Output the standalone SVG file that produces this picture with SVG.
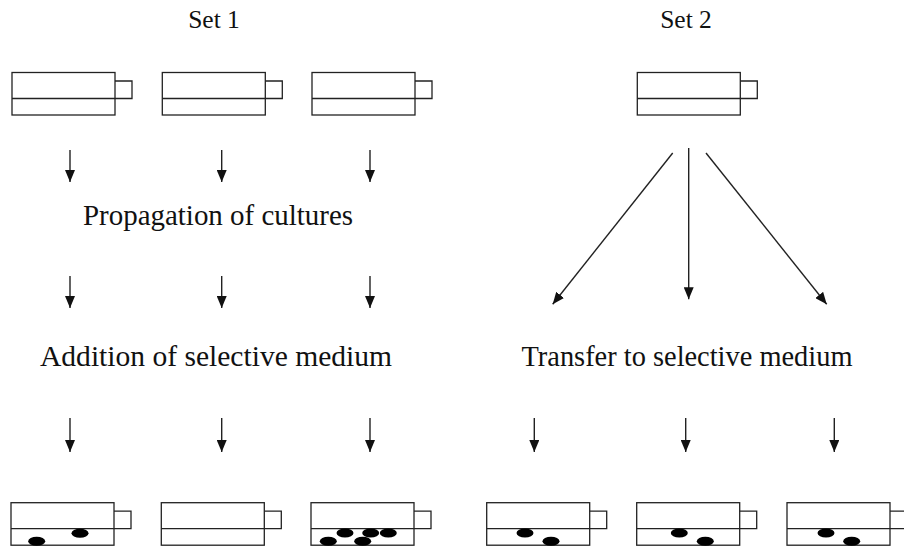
<svg xmlns="http://www.w3.org/2000/svg" xmlns:xlink="http://www.w3.org/1999/xlink" width="904" height="550" viewBox="0 0 904 550">
  <style>
    .t { fill: none; stroke: #222; stroke-width: 1.3; }
    .lbl { font-family: "Liberation Serif", "Times New Roman", serif; fill: #111; text-anchor: middle; }
    .set { font-size: 25.5px; }
    .mid { font-size: 28.5px; }
    .arr { stroke: #222; stroke-width: 1.4; fill: none; marker-end: url(#ah); }
    .blob { fill: #000; }
  </style>
  <defs>
    <marker id="ah" viewBox="0 0 12 10" refX="12" refY="5" markerWidth="12" markerHeight="10" markerUnits="userSpaceOnUse" orient="auto">
      <path d="M0,0 L12,5 L0,10 z" fill="#111"/>
    </marker>
    <g id="tube">
      <rect class="t" x="0" y="0" width="103" height="42.5"/>
      <line class="t" x1="0" y1="26" x2="103" y2="26"/>
      <polyline class="t" points="103,8.5 120,8.5 120,26 103,26"/>
    </g>
  </defs>
  <rect width="904" height="550" fill="#fff"/>

  <g id="labels">
    <text class="lbl set" x="214" y="28">Set 1</text>
    <text class="lbl set" x="686" y="28">Set 2</text>
    <text class="lbl mid" x="218" y="225" textLength="270" lengthAdjust="spacingAndGlyphs">Propagation of cultures</text>
    <text class="lbl mid" x="216" y="366" textLength="352" lengthAdjust="spacingAndGlyphs">Addition of selective medium</text>
    <text class="lbl mid" x="687" y="366" textLength="331" lengthAdjust="spacingAndGlyphs">Transfer to selective medium</text>
  </g>

  <g id="set1-top-1"><use xlink:href="#tube" x="12" y="72.5"/></g>
  <g id="set1-top-2"><use xlink:href="#tube" x="162.3" y="72.5"/></g>
  <g id="set1-top-3"><use xlink:href="#tube" x="312" y="72.5"/></g>
  <g id="set2-top"><use xlink:href="#tube" x="637.3" y="72.5"/></g>

  <g id="set1-bottom-1">
    <use xlink:href="#tube" x="11" y="502.7"/>
    <ellipse class="blob" cx="36.7" cy="541.3" rx="8.5" ry="4.5"/>
    <ellipse class="blob" cx="80" cy="533.3" rx="8.5" ry="4.5"/>
  </g>
  <g id="set1-bottom-2">
    <use xlink:href="#tube" x="161.3" y="502.7"/>
  </g>
  <g id="set1-bottom-3">
    <use xlink:href="#tube" x="311" y="502.7"/>
    <ellipse class="blob" cx="328.3" cy="541.3" rx="8.5" ry="4.5"/>
    <ellipse class="blob" cx="345" cy="533" rx="8.5" ry="4.5"/>
    <ellipse class="blob" cx="370.7" cy="533" rx="8.5" ry="4.5"/>
    <ellipse class="blob" cx="388.3" cy="533" rx="8.5" ry="4.5"/>
    <ellipse class="blob" cx="362.7" cy="541.3" rx="8.5" ry="4.5"/>
  </g>
  <g id="set2-bottom-1">
    <use xlink:href="#tube" x="486.7" y="502.7"/>
    <ellipse class="blob" cx="525" cy="533" rx="8.5" ry="4.5"/>
    <ellipse class="blob" cx="551" cy="541.3" rx="8.5" ry="4.5"/>
  </g>
  <g id="set2-bottom-2">
    <use xlink:href="#tube" x="636.7" y="502.7"/>
    <ellipse class="blob" cx="679.3" cy="533" rx="8.5" ry="4.5"/>
    <ellipse class="blob" cx="705.3" cy="541.3" rx="8.5" ry="4.5"/>
  </g>
  <g id="set2-bottom-3">
    <use xlink:href="#tube" x="787" y="502.7"/>
    <ellipse class="blob" cx="826" cy="533" rx="8.5" ry="4.5"/>
    <ellipse class="blob" cx="851.7" cy="541.3" rx="8.5" ry="4.5"/>
  </g>

  <g id="connectors">
    <line class="arr" x1="70" y1="150" x2="70" y2="182"/>
    <line class="arr" x1="221.7" y1="150" x2="221.7" y2="182"/>
    <line class="arr" x1="370" y1="150" x2="370" y2="182"/>
    <line class="arr" x1="70" y1="276" x2="70" y2="308"/>
    <line class="arr" x1="221.7" y1="276" x2="221.7" y2="308"/>
    <line class="arr" x1="370" y1="276" x2="370" y2="308"/>
    <line class="arr" x1="70" y1="418" x2="70" y2="452"/>
    <line class="arr" x1="221.7" y1="418" x2="221.7" y2="452"/>
    <line class="arr" x1="370" y1="418" x2="370" y2="452"/>
    <line class="arr" x1="672.7" y1="153" x2="552.7" y2="304.3"/>
    <line class="arr" x1="688.7" y1="148" x2="688.7" y2="299.3"/>
    <line class="arr" x1="706" y1="153" x2="826.7" y2="304.3"/>
    <line class="arr" x1="534.3" y1="418" x2="534.3" y2="452"/>
    <line class="arr" x1="685.7" y1="418" x2="685.7" y2="452"/>
    <line class="arr" x1="834.3" y1="418" x2="834.3" y2="452"/>
  </g>
</svg>
